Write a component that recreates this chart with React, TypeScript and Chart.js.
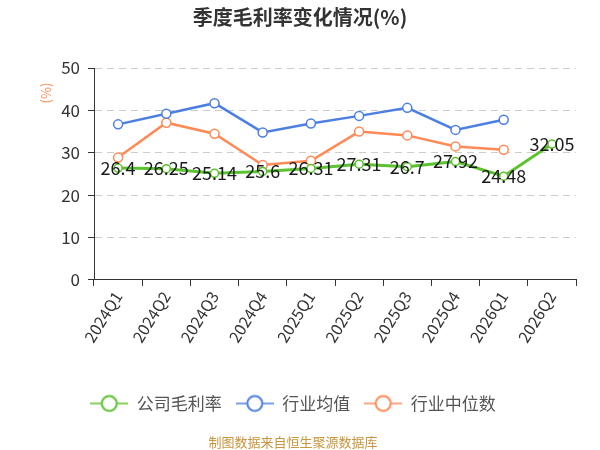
import React, { useEffect, useRef } from "react"
import { Chart, registerables, Plugin } from "chart.js"

Chart.register(...registerables)

const quarters = [
  "2024Q1", "2024Q2", "2024Q3", "2024Q4", "2025Q1",
  "2025Q2", "2025Q3", "2025Q4", "2026Q1", "2026Q2",
]
const companyMargin = [26.4, 26.25, 25.14, 25.6, 26.31, 27.31, 26.7, 27.92, 24.48, 32.05]
const industryAvg = [36.7, 39.2, 41.7, 34.8, 36.9, 38.7, 40.6, 35.4, 37.8, null]
const industryMedian = [28.9, 37.1, 34.5, 27.1, 28.1, 35.0, 34.1, 31.5, 30.7, null]
const yTicks = [0, 10, 20, 30, 40, 50]

const FONT = "'Noto Sans CJK SC', 'Noto Sans', sans-serif"
const GREEN = "#5cc22e"
const BLUE = "#4d7fe3"
const ORANGE = "#ff8a56"

// little "line with a circle" marker for the legend
function legendMarker(color: string): HTMLCanvasElement {
  const c = document.createElement("canvas")
  c.width = 38
  c.height = 20
  const ctx = c.getContext("2d")!
  ctx.strokeStyle = color
  ctx.lineWidth = 1.5
  ctx.beginPath()
  ctx.moveTo(0, 10)
  ctx.lineTo(38, 10)
  ctx.stroke()
  ctx.beginPath()
  ctx.arc(19, 10, 7.5, 0, Math.PI * 2)
  ctx.fillStyle = "#fff"
  ctx.fill()
  ctx.lineWidth = 2
  ctx.stroke()
  return c
}

const extras: Plugin = {
  id: "extras",
  afterDatasetsDraw(chart) {
    const ctx = chart.ctx
    const meta = chart.getDatasetMeta(0)
    ctx.save()
    ctx.font = `18px ${FONT}`
    ctx.fillStyle = "#1a1a1a"
    ctx.textAlign = "center"
    ctx.textBaseline = "middle"
    meta.data.forEach((pt, i) => {
      ctx.fillText(String(companyMargin[i]), pt.x, pt.y)
    })
    ctx.restore()
  },
  afterDraw(chart) {
    const ctx = chart.ctx
    ctx.save()
    ctx.font = `bold 20px ${FONT}`
    ctx.fillStyle = "#333"
    ctx.textAlign = "center"
    ctx.textBaseline = "middle"
    ctx.fillText("季度毛利率变化情况(%)", 300, 17)
    ctx.restore()

    ctx.save()
    ctx.translate(46, 93)
    ctx.rotate(-Math.PI / 2)
    ctx.font = `13px ${FONT}`
    ctx.fillStyle = ORANGE
    ctx.textAlign = "center"
    ctx.textBaseline = "middle"
    ctx.fillText("(%)", 0, 0)
    ctx.restore()

    ctx.save()
    ctx.font = `13px ${FONT}`
    ctx.fillStyle = "#c8963e"
    ctx.textAlign = "center"
    ctx.textBaseline = "middle"
    ctx.fillText("制图数据来自恒生聚源数据库", 293, 442)
    ctx.restore()
  },
}

const App: React.FC = () => {
  const chartRef = useRef<HTMLCanvasElement | null>(null)
  const chartInstance = useRef<Chart | null>(null)

  useEffect(() => {
    if (!chartRef.current) return
    if (chartInstance.current) chartInstance.current.destroy()

    const markers = [legendMarker(GREEN), legendMarker(BLUE), legendMarker(ORANGE)]

    chartInstance.current = new Chart(chartRef.current, {
      type: "line",
      data: {
        labels: quarters,
        datasets: [
          {
            label: "公司毛利率",
            data: companyMargin,
            borderColor: GREEN,
            backgroundColor: "#fff",
            borderWidth: 3,
            pointRadius: 4,
            pointBorderWidth: 1.5,
            pointBackgroundColor: "#fff",
            pointBorderColor: GREEN,
          },
          {
            label: "行业均值",
            data: industryAvg,
            borderColor: BLUE,
            backgroundColor: "#fff",
            borderWidth: 2.5,
            pointRadius: 4.5,
            pointBorderWidth: 1.5,
            pointBackgroundColor: "#fff",
            pointBorderColor: BLUE,
          },
          {
            label: "行业中位数",
            data: industryMedian,
            borderColor: ORANGE,
            backgroundColor: "#fff",
            borderWidth: 2.5,
            pointRadius: 4.5,
            pointBorderWidth: 1.5,
            pointBackgroundColor: "#fff",
            pointBorderColor: ORANGE,
          },
        ],
      },
      options: {
        animation: false,
        responsive: true,
        maintainAspectRatio: false,
        layout: { padding: { left: 10, right: 24, top: 68, bottom: 28 } },
        scales: {
          x: {
            offset: true,
            grid: {
              display: true,
              drawOnChartArea: false,
              tickColor: "#333",
              tickLength: 6,
              offset: true,
            },
            border: { color: "#333", width: 1 },
            ticks: {
              color: "#333",
              font: { size: 16, family: FONT },
              minRotation: 58,
              maxRotation: 58,
              padding: 2,
            },
          },
          y: {
            min: yTicks[0],
            max: yTicks[yTicks.length - 1],
            afterBuildTicks: (axis) => {
              axis.ticks = yTicks.map((v) => ({ value: v }))
            },
            afterFit: (scale) => {
              scale.width = 84
            },
            grid: {
              color: (c) => (c.tick && c.tick.value === 0 ? "rgba(0,0,0,0)" : "#cccccc"),
              tickColor: "#333",
              tickLength: 6,
              lineWidth: 1,
            },
            border: { color: "#333", width: 1, dash: [7, 5] },
            ticks: {
              color: "#333",
              font: { size: 17, family: FONT },
              padding: 8,
            },
          },
        },
        plugins: {
          title: { display: false },
          legend: {
            position: "bottom",
            title: {
              display: true,
              text: " ",
              font: { size: 1 },
              padding: { top: 0, bottom: 32 },
            },
            labels: {
              usePointStyle: true,
              pointStyleWidth: 38,
              boxHeight: 17,
              padding: 14,
              color: "#555",
              font: { size: 17, family: FONT },
              generateLabels: (chart) =>
                Chart.defaults.plugins.legend.labels
                  .generateLabels(chart)
                  .map((item, i) => ({ ...item, pointStyle: markers[i] })),
            },
          },
          tooltip: { enabled: false },
        },
      },
      plugins: [extras],
    })

    return () => {
      if (chartInstance.current) {
        chartInstance.current.destroy()
        chartInstance.current = null
      }
    }
  }, [])

  return (
    <div style={{ position: "absolute", left: 0, top: 0, width: 600, height: 450 }}>
      <canvas ref={chartRef} />
    </div>
  )
}

export default App
